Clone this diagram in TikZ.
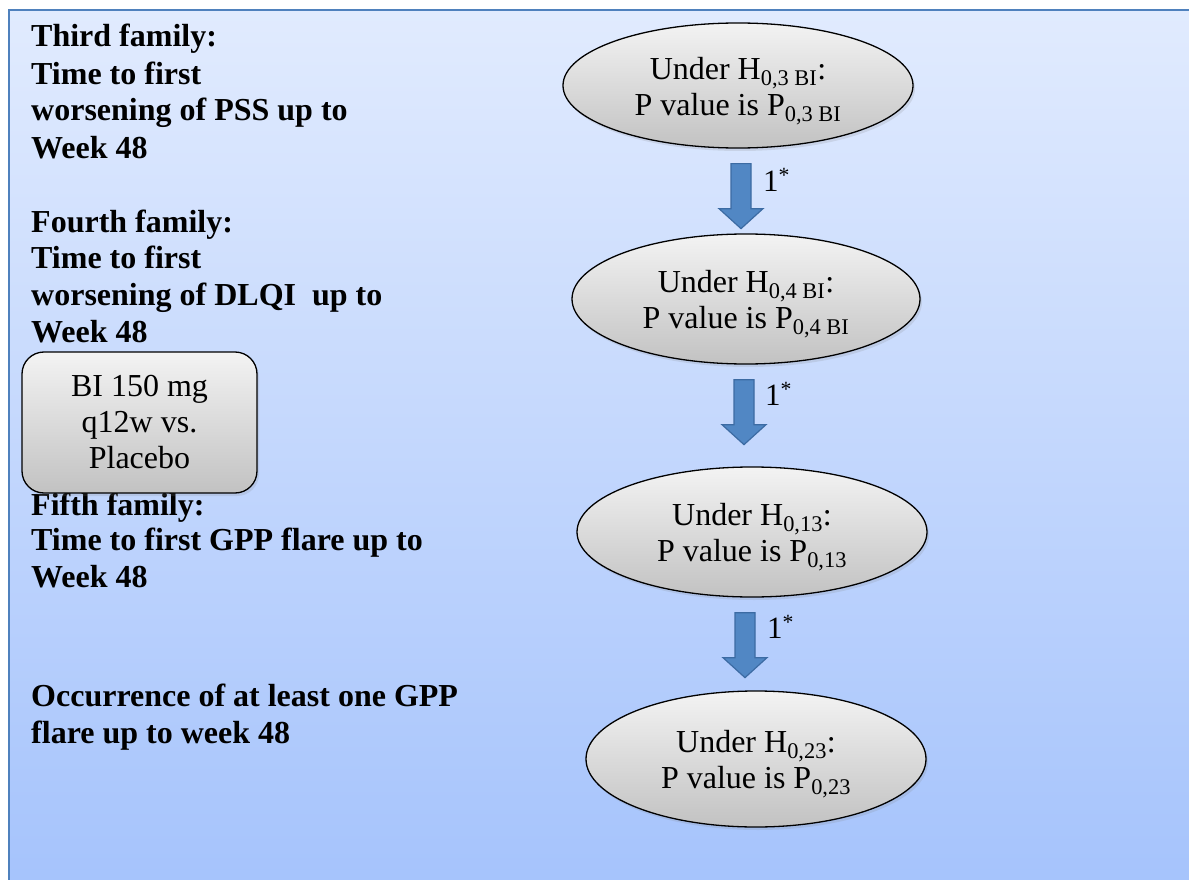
\documentclass[tikz,border=0pt]{standalone}
\usepackage{fontspec}
\setmainfont{Liberation Serif}
\usetikzlibrary{shapes.geometric,shadows}
\definecolor{bgtop}{HTML}{E1EBFE}
\definecolor{bgbot}{HTML}{A5C3FC}
\definecolor{framecol}{HTML}{4F81BD}
\definecolor{ellTop}{HTML}{F3F3F3}
\definecolor{ellBot}{HTML}{C2C2C2}
\definecolor{arrFill}{HTML}{5187C4}
\definecolor{arrDraw}{HTML}{3C6BA3}
\newcommand{\lowerstrut}{\rule{0pt}{33pt}}
\tikzset{
  hyp/.style={ellipse, draw=black, line width=1.3pt, top color=ellTop, bottom color=ellBot,
    inner sep=0pt, align=center, font=\fontsize{32}{36}\selectfont,
    drop shadow={opacity=0.18, shadow xshift=2pt, shadow yshift=-3pt}},
  armbox/.style={rectangle, rounded corners=22pt, draw=black, line width=1.3pt,
    top color=ellTop, bottom color=ellBot, minimum width=235pt, minimum height=141pt,
    inner sep=0pt, align=center, font=\fontsize{32}{36}\selectfont,
    drop shadow={opacity=0.18, shadow xshift=2pt, shadow yshift=-3pt}},
  famtext/.style={anchor=base west, inner sep=0pt, font=\bfseries\fontsize{32}{37}\selectfont},
  steplabel/.style={anchor=base west, inner sep=0pt, font=\fontsize{31}{36}\selectfont},
  blockarrow/.pic={
    \draw[arrDraw, fill=arrFill, line width=1.2pt, line join=miter]
      (-10,0) -- (10,0) -- (10,45) -- (22,45) -- (0,65) -- (-22,45) -- (-10,45) -- cycle;
  }
}
\begin{document}
\begin{tikzpicture}[x=1pt,y=-1pt]
\useasboundingbox (0,0) rectangle (1189,880);
\fill[white] (0,0) rectangle (1189,880);
\shade[top color=bgtop, bottom color=bgbot] (9,10) rectangle (1200,890);
\draw[framecol, line width=2pt] (1200,10) -- (9,10) -- (9,890);

% left texts
\node[famtext] (t1) at (31,47) {Third family:};
\node[famtext] (t2) at (31,85) {Time to first};
\node[famtext] (t3) at (31,121) {worsening of PSS up to};
\node[famtext] (t4) at (31,158) {Week 48};
\node[famtext] (t5) at (31,232) {Fourth family:};
\node[famtext] (t6) at (31,268) {Time to first};
\node[famtext] (t7) at (31,305) {worsening of DLQI\ \ up to};
\node[famtext] (t8) at (31,342) {Week 48};
\node[famtext] (t9) at (31,515) {Fifth family:};
\node[famtext] (t10) at (31,550) {Time to first GPP flare up to};
\node[famtext] (t11) at (31,587) {Week 48};
\node[famtext] (t12) at (31,706) {Occurrence of at least one GPP};
\node[famtext] (t13) at (31,743) {flare up to week 48};

% treatment box
\node[armbox] (arm) at (139.5,422.5) {BI 150 mg\\q12w vs.\\Placebo};

% hypotheses
\node[hyp, minimum width=350pt, minimum height=125pt] (e1) at (738,85.5)
  {\lowerstrut Under H\textsubscript{0,3 BI}:\\P value is P\textsubscript{0,3 BI}};
\node[hyp, minimum width=348pt, minimum height=130pt] (e2) at (746,299)
  {\lowerstrut Under H\textsubscript{0,4 BI}:\\P value is P\textsubscript{0,4 BI}};
\node[hyp, minimum width=350pt, minimum height=130pt] (e3) at (752,532)
  {\lowerstrut Under H\textsubscript{0,13}:\\P value is P\textsubscript{0,13}};
\node[hyp, minimum width=340pt, minimum height=136pt] (e4) at (756,759)
  {\lowerstrut Under H\textsubscript{0,23}:\\P value is P\textsubscript{0,23}};

% block arrows between hypotheses
\path (e1.south) ++(3,15) coordinate (a1);
\path (e2.south) ++(-2,15) coordinate (a2);
\path (e3.south) ++(-7,15) coordinate (a3);
\pic at (a1) {blockarrow};
\pic at (a2) {blockarrow};
\pic at (a3) {blockarrow};
\node[steplabel] (l1) at ([xshift=22pt,yshift=-28pt]a1) {1\textsuperscript{*}};
\node[steplabel] (l2) at ([xshift=21pt,yshift=-26pt]a2) {1\textsuperscript{*}};
\node[steplabel] (l3) at ([xshift=22pt,yshift=-26pt]a3) {1\textsuperscript{*}};
\end{tikzpicture}
\end{document}
